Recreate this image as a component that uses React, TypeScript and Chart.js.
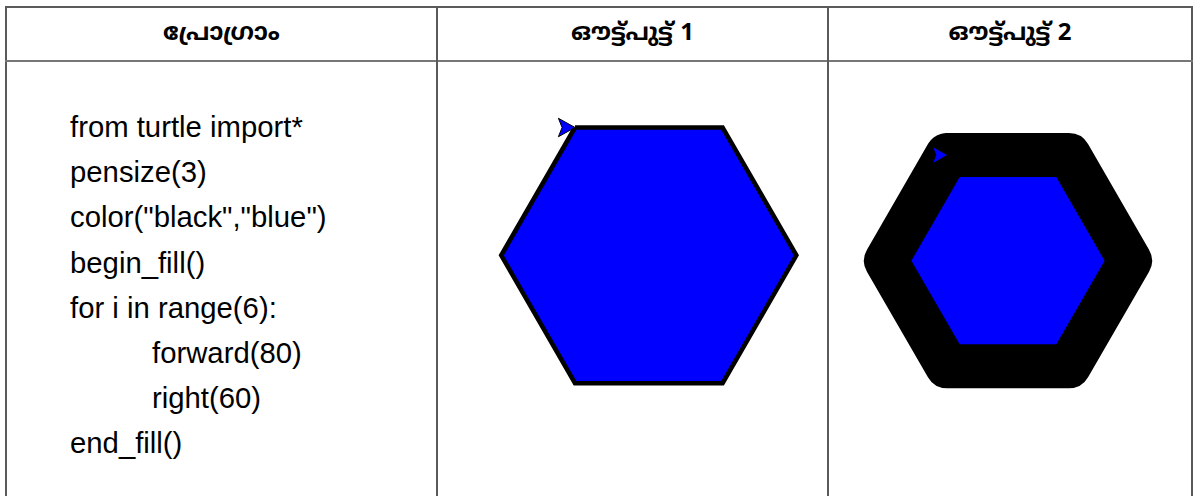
import React, { useEffect, useRef } from "react";
import { Chart, registerables } from "chart.js";

Chart.register(...registerables);

// ---- data ----
const headers = ["പ്രോഗ്രാം", "ഔട്ട്പുട്ട് 1", "ഔട്ട്പുട്ട് 2"];
const codeLines = [
  "from turtle import*",
  "pensize(3)",
  'color("black","blue")',
  "begin_fill()",
  "for i in range(6):",
  "forward(80)",
  "right(60)",
  "end_fill()",
];
const codeIndent = [0, 0, 0, 0, 0, 1, 1, 0];

// hexagon vertices in turtle units (forward 80, right 60), closed
const hexX = [0, 80, 120, 80, 0, -40, 0];
const hexY = [0, 0, -69.28, -138.56, -138.56, -69.28, 0];
// turtle "classic" arrow, pointing east, tip at origin
const arrowX = [0, -9, -7, -9, 0];
const arrowY = [0, 5, 0, -5, 0];

const FILL = "#0000ff";
const PEN = "#000000";

type Spec = {
  left: number;
  top: number;
  width: number;
  height: number;
  originPx: number; // pixel x of turtle (0,0)
  originPy: number; // pixel y of turtle (0,0)
  k: number; // px per turtle unit
  lineWidth: number;
  join: CanvasLineJoin;
  cap: CanvasLineCap;
  arrowBorder: number;
};

const specs: Spec[] = [
  { left: 439, top: 63, width: 389, height: 433, originPx: 575, originPy: 127.5, k: 1.845, lineWidth: 4.5, join: "miter", cap: "butt", arrowBorder: 1 },
  { left: 830, top: 63, width: 361, height: 433, originPx: 947, originPy: 155, k: 1.525, lineWidth: 44, join: "round", cap: "round", arrowBorder: 0 },
];

const pts = (xs: number[], ys: number[]) => xs.map((x, i) => ({ x, y: ys[i] }));

function TurtleChart({ spec }: { spec: Spec }) {
  const ref = useRef<HTMLCanvasElement | null>(null);
  useEffect(() => {
    if (!ref.current) return;
    const xmin = -(spec.originPx - spec.left) / spec.k;
    const xmax = xmin + spec.width / spec.k;
    const ymax = (spec.originPy - spec.top) / spec.k;
    const ymin = ymax - spec.height / spec.k;
    const chart = new Chart(ref.current, {
      type: "scatter",
      data: {
        datasets: [
          {
            label: "turtle",
            data: pts(arrowX, arrowY),
            showLine: true,
            fill: "shape",
            backgroundColor: FILL,
            borderColor: PEN,
            borderWidth: spec.arrowBorder,
            pointRadius: 0,
            tension: 0,
            clip: false,
          } as any,
          {
            label: "hexagon",
            data: pts(hexX, hexY),
            showLine: true,
            fill: "shape",
            backgroundColor: FILL,
            borderColor: PEN,
            borderWidth: spec.lineWidth,
            borderJoinStyle: spec.join,
            borderCapStyle: spec.cap,
            pointRadius: 0,
            tension: 0,
            clip: false,
          } as any,
        ],
      },
      options: {
        animation: false,
        responsive: false,
        maintainAspectRatio: false,
        events: [],
        layout: { padding: 0 },
        scales: {
          x: { type: "linear", min: xmin, max: xmax, display: false },
          y: { type: "linear", min: ymin, max: ymax, display: false },
        },
        plugins: { legend: { display: false }, tooltip: { enabled: false } },
      },
    });
    return () => chart.destroy();
  }, [spec]);
  return (
    <canvas
      ref={ref}
      width={spec.width}
      height={spec.height}
      style={{ position: "absolute", left: spec.left, top: spec.top, width: spec.width, height: spec.height }}
    />
  );
}

const line = "#5a5a5a";

export default function App() {
  const colCenters = [221.5, 632.5, 1010];
  return (
    <div
      style={{
        position: "fixed",
        left: 0,
        top: 0,
        width: 1193,
        height: 496,
        overflow: "hidden",
        background: "#fff",
        fontFamily: '"Liberation Sans", Arial, sans-serif',
        color: "#000",
      }}
    >
      {/* table frame */}
      <div style={{ position: "absolute", left: 5, top: 6, width: 1188, height: 2, background: line }} />
      <div style={{ position: "absolute", left: 5, top: 6, width: 2, height: 490, background: line }} />
      <div style={{ position: "absolute", left: 1191, top: 6, width: 2, height: 490, background: line }} />
      <div style={{ position: "absolute", left: 5, top: 60, width: 1188, height: 2, background: "#777" }} />
      <div style={{ position: "absolute", left: 436, top: 6, width: 2, height: 490, background: line }} />
      <div style={{ position: "absolute", left: 827, top: 6, width: 2, height: 490, background: line }} />

      {headers.map((h, i) => (
        <div
          key={h}
          style={{
            position: "absolute",
            left: colCenters[i] - 200,
            width: 400,
            top: 8,
            height: 52,
            lineHeight: "52px",
            textAlign: "center",
            fontWeight: "bold",
            fontSize: 24,
            fontFamily: '"Noto Sans Malayalam", "Liberation Sans", "Noto Sans", sans-serif',
            whiteSpace: "nowrap",
          }}
        >
          {h}
        </div>
      ))}

      {codeLines.map((t, i) => (
        <div
          key={i}
          style={{
            position: "absolute",
            left: codeIndent[i] ? 152 : 70,
            top: 104 + i * 45.2,
            height: 45,
            lineHeight: "45px",
            fontSize: 29.3,
            whiteSpace: "nowrap",
          }}
        >
          {t}
        </div>
      ))}

      {specs.map((s, i) => (
        <TurtleChart key={i} spec={s} />
      ))}
    </div>
  );
}
